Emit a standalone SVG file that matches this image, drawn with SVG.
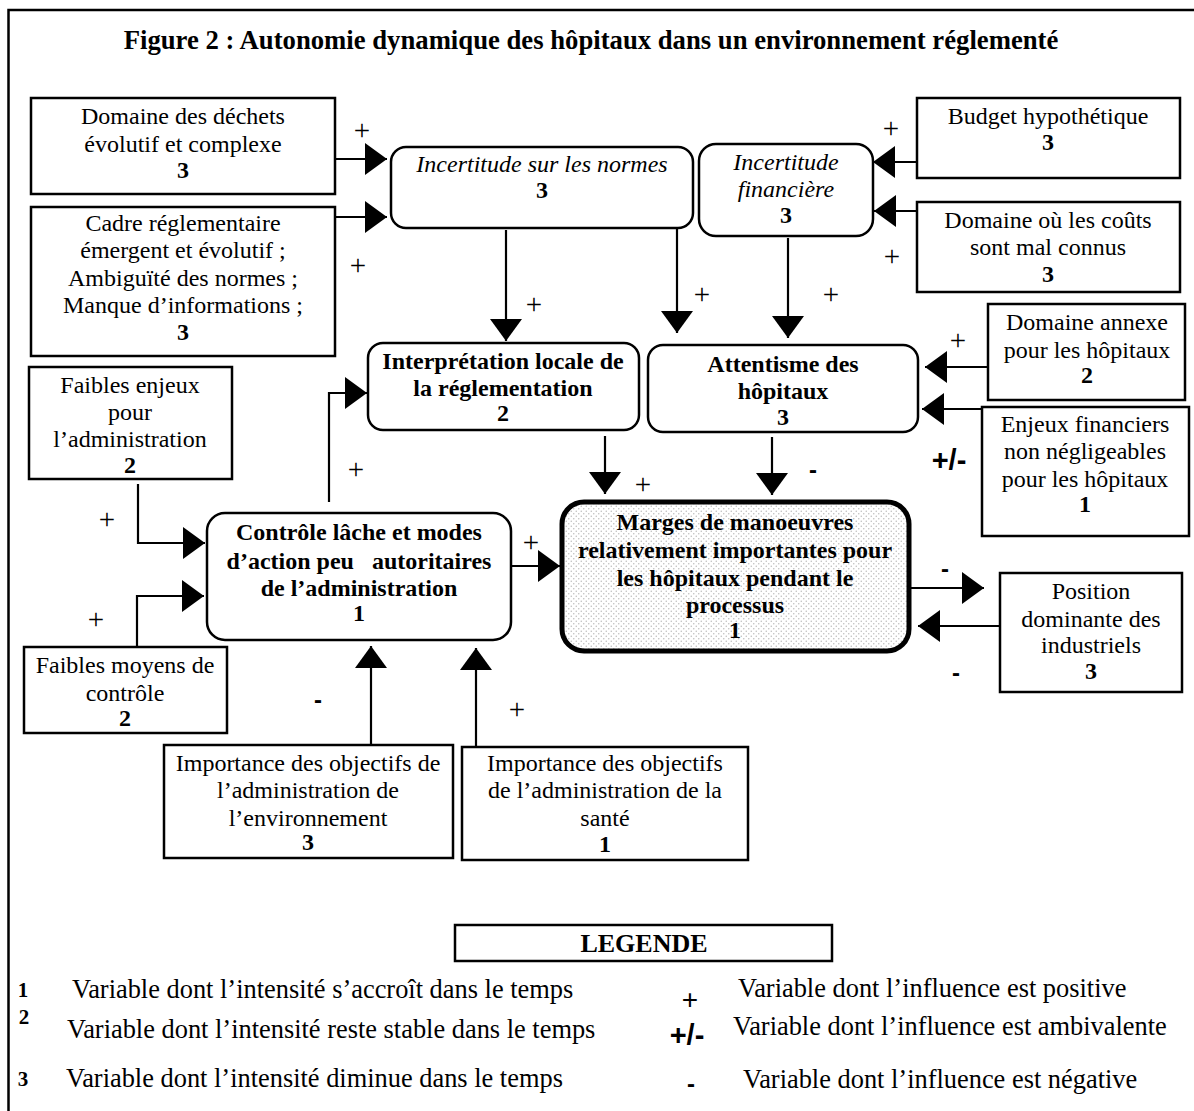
<svg xmlns="http://www.w3.org/2000/svg" width="1194" height="1111" viewBox="0 0 1194 1111">
<style>
.box{fill:#fff;stroke:#000;stroke-width:2.5}
.t{font-family:"Liberation Serif","Times New Roman",serif;font-size:24px;text-anchor:middle;fill:#000}
.b{font-weight:bold}
.i{font-style:italic}
.c{fill:none;stroke:#000;stroke-width:2.2;marker-end:url(#ah)}
.sg{font-family:"Liberation Serif","Times New Roman",serif;font-size:29px;text-anchor:middle}
.sd{font-family:"Liberation Sans",Arial,sans-serif;font-weight:bold;font-size:24px;text-anchor:middle}
.lg{font-family:"Liberation Serif","Times New Roman",serif;font-size:26.4px}
.ln{font-family:"Liberation Serif","Times New Roman",serif;font-size:21px;font-weight:bold;text-anchor:middle}
</style>
<defs>
<marker id="ah" markerUnits="userSpaceOnUse" markerWidth="22" markerHeight="32" refX="22" refY="16" orient="auto">
<path d="M0,0 L22,16 L0,32 z" fill="#000"/>
</marker>
<pattern id="dots" width="5" height="5" patternUnits="userSpaceOnUse">
<rect width="5" height="5" fill="#fff"/>
<circle cx="1.25" cy="1.25" r="0.75" fill="#bbb"/>
<circle cx="3.75" cy="3.75" r="0.75" fill="#bbb"/>
</pattern>
</defs>
<rect width="1194" height="1111" fill="#fff"/>
<rect x="8.5" y="10" width="1200" height="1130" fill="none" stroke="#000" stroke-width="2.5"/>
<text class="t b" x="591" y="49" style="font-size:26.7px">Figure 2 : Autonomie dynamique des hôpitaux dans un environnement réglementé</text>

<g id="connectors">
<line class="c" x1="335" y1="159" x2="387" y2="159"/>
<line class="c" x1="335" y1="217" x2="387" y2="217"/>
<line class="c" x1="506" y1="230" x2="506" y2="341"/>
<line class="c" x1="677" y1="228" x2="677" y2="333"/>
<line class="c" x1="788" y1="238" x2="788" y2="338"/>
<line class="c" x1="917" y1="162" x2="873" y2="162"/>
<line class="c" x1="917" y1="211" x2="874" y2="211"/>
<line class="c" x1="988" y1="367" x2="925" y2="367"/>
<line class="c" x1="982" y1="409" x2="922" y2="409"/>
<polyline class="c" points="138,484 138,543 205,543"/>
<polyline class="c" points="137,647 137,596 204,596"/>
<polyline class="c" points="329,502 329,393 367,393"/>
<line class="c" x1="511" y1="566" x2="560" y2="566"/>
<line class="c" x1="605" y1="436" x2="605" y2="494"/>
<line class="c" x1="772" y1="437" x2="772" y2="495"/>
<line class="c" x1="909" y1="588" x2="984" y2="588"/>
<line class="c" x1="1000" y1="626" x2="918" y2="626"/>
<line class="c" x1="371" y1="745" x2="371" y2="646"/>
<line class="c" x1="476" y1="747" x2="476" y2="648"/>
</g>

<g id="signs">
<text class="sg" x="362" y="140">+</text>
<text class="sg" x="358" y="275">+</text>
<text class="sg" x="534" y="314">+</text>
<text class="sg" x="702" y="304">+</text>
<text class="sg" x="831" y="304">+</text>
<text class="sg" x="891" y="138">+</text>
<text class="sg" x="892" y="266">+</text>
<text class="sg" x="958" y="350">+</text>
<text class="sd" x="949" y="470" style="font-size:29px">+/-</text>
<text class="sg" x="643" y="494">+</text>
<text class="sd" x="813" y="478">-</text>
<text class="sg" x="356" y="479">+</text>
<text class="sg" x="107" y="529">+</text>
<text class="sg" x="96" y="629">+</text>
<text class="sd" x="318" y="708">-</text>
<text class="sg" x="517" y="719">+</text>
<text class="sg" x="531" y="552">+</text>
<text class="sd" x="945" y="577">-</text>
<text class="sd" x="956" y="681">-</text>
</g>

<g id="n1"><rect class="box" x="31" y="98" width="304" height="96"/>
<text class="t"><tspan x="183" y="124">Domaine des déchets</tspan><tspan x="183" y="152">évolutif et complexe</tspan><tspan x="183" y="178" class="b">3</tspan></text></g>

<g id="n2"><rect class="box" x="31" y="207" width="304" height="149"/>
<text class="t"><tspan x="183" y="231">Cadre réglementaire</tspan><tspan x="183" y="258">émergent et évolutif ;</tspan><tspan x="183" y="286">Ambiguïté des normes ;</tspan><tspan x="183" y="313">Manque d’informations ;</tspan><tspan x="183" y="340" class="b">3</tspan></text></g>

<g id="n3"><rect class="box" x="391" y="147" width="302" height="81" rx="15"/>
<text class="t"><tspan x="542" y="172" class="i">Incertitude sur les normes</tspan><tspan x="542" y="198" class="b">3</tspan></text></g>

<g id="n4"><rect class="box" x="699" y="144" width="174" height="92" rx="17"/>
<text class="t"><tspan x="786" y="170" class="i">Incertitude</tspan><tspan x="786" y="197" class="i">financière</tspan><tspan x="786" y="223" class="b">3</tspan></text></g>

<g id="n5"><rect class="box" x="917" y="98" width="263" height="80"/>
<text class="t"><tspan x="1048" y="124">Budget hypothétique</tspan><tspan x="1048" y="150" class="b">3</tspan></text></g>

<g id="n6"><rect class="box" x="917" y="202" width="263" height="90"/>
<text class="t"><tspan x="1048" y="228">Domaine où les coûts</tspan><tspan x="1048" y="255">sont mal connus</tspan><tspan x="1048" y="282" class="b">3</tspan></text></g>

<g id="n7"><rect class="box" x="368" y="343" width="271" height="87" rx="15"/>
<text class="t b"><tspan x="503" y="369">Interprétation locale de</tspan><tspan x="503" y="396">la réglementation</tspan><tspan x="503" y="421">2</tspan></text></g>

<g id="n8"><rect class="box" x="648" y="345" width="270" height="87" rx="15"/>
<text class="t b"><tspan x="783" y="372">Attentisme des</tspan><tspan x="783" y="399">hôpitaux</tspan><tspan x="783" y="425">3</tspan></text></g>

<g id="n9"><rect class="box" x="988" y="304" width="197" height="96"/>
<text class="t"><tspan x="1087" y="330">Domaine annexe</tspan><tspan x="1087" y="358">pour les hôpitaux</tspan><tspan x="1087" y="383" class="b">2</tspan></text></g>

<g id="n10"><rect class="box" x="982" y="407" width="207" height="129"/>
<text class="t"><tspan x="1085" y="432">Enjeux financiers</tspan><tspan x="1085" y="459">non négligeables</tspan><tspan x="1085" y="487">pour les hôpitaux</tspan><tspan x="1085" y="512" class="b">1</tspan></text></g>

<g id="n11"><rect class="box" x="29" y="367" width="203" height="112"/>
<text class="t"><tspan x="130" y="393">Faibles enjeux</tspan><tspan x="130" y="420">pour</tspan><tspan x="130" y="447">l’administration</tspan><tspan x="130" y="473" class="b">2</tspan></text></g>

<g id="n12"><rect class="box" x="207" y="513" width="304" height="127" rx="18"/>
<text class="t b" style="white-space:pre"><tspan x="359" y="540">Contrôle lâche et modes</tspan><tspan x="359" y="569">d’action peu   autoritaires</tspan><tspan x="359" y="596">de l’administration</tspan><tspan x="359" y="621">1</tspan></text></g>

<g id="n13"><rect x="562" y="502" width="347" height="149" rx="22" fill="url(#dots)" stroke="#000" stroke-width="5"/>
<text class="t b"><tspan x="735" y="530">Marges de manoeuvres</tspan><tspan x="735" y="558">relativement importantes pour</tspan><tspan x="735" y="586">les hôpitaux pendant le</tspan><tspan x="735" y="613">processus</tspan><tspan x="735" y="638">1</tspan></text></g>

<g id="n14"><rect class="box" x="1000" y="573" width="182" height="119"/>
<text class="t"><tspan x="1091" y="599">Position</tspan><tspan x="1091" y="627">dominante des</tspan><tspan x="1091" y="653">industriels</tspan><tspan x="1091" y="679" class="b">3</tspan></text></g>

<g id="n15"><rect class="box" x="24" y="647" width="203" height="86"/>
<text class="t"><tspan x="125" y="673">Faibles moyens de</tspan><tspan x="125" y="701">contrôle</tspan><tspan x="125" y="726" class="b">2</tspan></text></g>

<g id="n16"><rect class="box" x="164" y="745" width="289" height="113"/>
<text class="t"><tspan x="308" y="771">Importance des objectifs de</tspan><tspan x="308" y="798">l’administration de</tspan><tspan x="308" y="826">l’environnement</tspan><tspan x="308" y="850" class="b">3</tspan></text></g>

<g id="n17"><rect class="box" x="462" y="747" width="286" height="113"/>
<text class="t"><tspan x="605" y="771">Importance des objectifs</tspan><tspan x="605" y="798">de l’administration de la</tspan><tspan x="605" y="826">santé</tspan><tspan x="605" y="852" class="b">1</tspan></text></g>

<g id="legend">
<rect class="box" x="455" y="925" width="377" height="36"/>
<text class="t b" x="644" y="952" style="font-size:26px">LEGENDE</text>
<text class="ln" x="23" y="997">1</text>
<text class="ln" x="24" y="1024">2</text>
<text class="ln" x="23" y="1086">3</text>
<text class="lg" x="72" y="998">Variable dont l’intensité s’accroît dans le temps</text>
<text class="lg" x="67" y="1038">Variable dont l’intensité reste stable dans le temps</text>
<text class="lg" x="66" y="1087">Variable dont l’intensité diminue dans le temps</text>
<text class="sd" x="690" y="1009" style="font-weight:normal;font-size:28px">+</text>
<text class="sd" x="687" y="1045" style="font-size:29px">+/-</text>
<text class="sd" x="691" y="1092">-</text>
<text class="lg" x="738" y="997">Variable dont l’influence est positive</text>
<text class="lg" x="733" y="1035">Variable dont l’influence est ambivalente</text>
<text class="lg" x="743" y="1088">Variable dont l’influence est négative</text>
</g>
</svg>
